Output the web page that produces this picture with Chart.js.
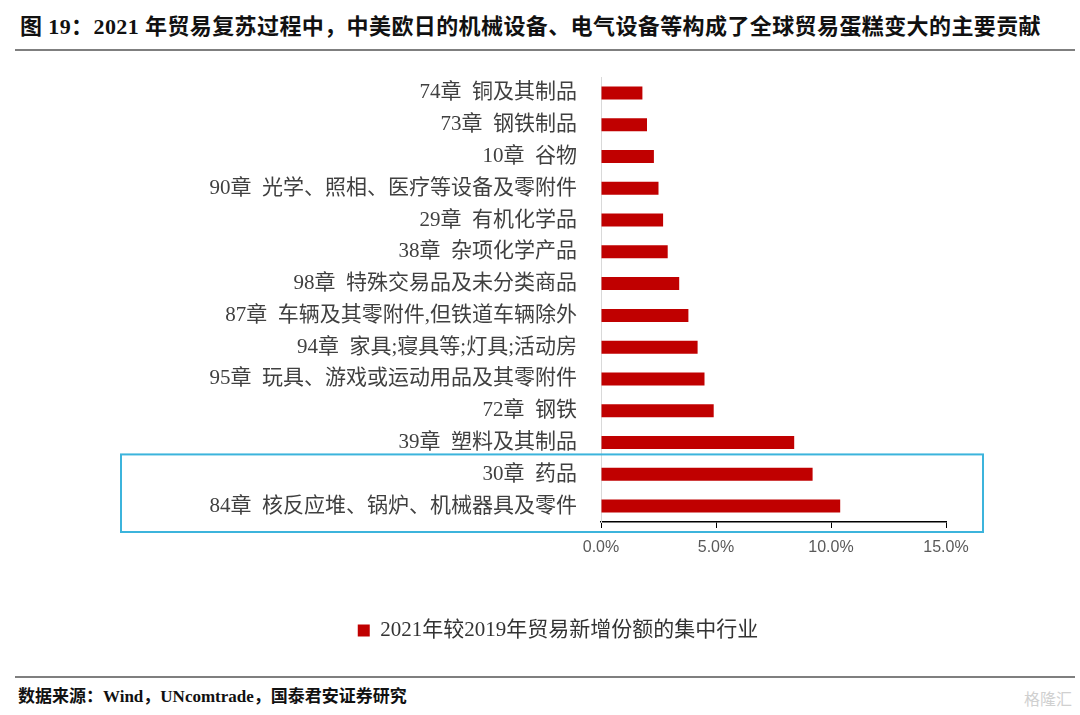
<!DOCTYPE html>
<html>
<head>
<meta charset="utf-8">
<script src="https://cdn.jsdelivr.net/npm/chart.js@4.4.0/dist/chart.umd.min.js"></script>
<style>
    body {
        margin: 0;
        width: 1080px;
        height: 715px;
        background: #fff;
        position: relative;
        overflow: hidden;
        font-family: "Liberation Serif", "Noto Sans CJK SC", serif;
    }
    #title {
        position: absolute;
        left: 20px;
        top: 8px;
        font-size: 22px;
        font-weight: bold;
        color: #111;
        letter-spacing: 0.4px;
        white-space: nowrap;
    }
    .rule {
        position: absolute;
        left: 15px;
        width: 1060px;
        height: 2px;
        background: #7f7f7f;
    }
    #chartBox {
        position: absolute;
        left: 0;
        top: 60px;
        width: 1080px;
        height: 610px;
    }
    #source {
        position: absolute;
        left: 18px;
        top: 682px;
        font-size: 17px;
        font-weight: bold;
        color: #111;
        white-space: nowrap;
    }
    #mark {
        position: absolute;
        right: 8px;
        top: 686px;
        font-family: "Noto Sans CJK SC", sans-serif;
        font-size: 16px;
        color: #d0d0d0;
    }
</style>
</head>
<body>

<div id="title">图 19：2021 年贸易复苏过程中，中美欧日的机械设备、电气设备等构成了全球贸易蛋糕变大的主要贡献</div>
<div class="rule" style="top:49px"></div>

<div id="chartBox"><canvas id="tradeChart"></canvas></div>

<div class="rule" style="top:676px"></div>
<div id="source">数据来源：Wind，UNcomtrade，国泰君安证券研究</div>
<div id="mark">格隆汇</div>

<script>
// ==============================
// Data
// ==============================

const categories = [
    "74章  铜及其制品",
    "73章  钢铁制品",
    "10章  谷物",
    "90章  光学、照相、医疗等设备及零附件",
    "29章  有机化学品",
    "38章  杂项化学产品",
    "98章  特殊交易品及未分类商品",
    "87章  车辆及其零附件,但铁道车辆除外",
    "94章  家具;寝具等;灯具;活动房",
    "95章  玩具、游戏或运动用品及其零附件",
    "72章  钢铁",
    "39章  塑料及其制品",
    "30章  药品",
    "84章  核反应堆、锅炉、机械器具及零件"
];

// share of new trade, %
const shareValues = [1.8, 2.0, 2.3, 2.5, 2.7, 2.9, 3.4, 3.8, 4.2, 4.5, 4.9, 8.4, 9.2, 10.4];

const tickValues = [0, 5, 10, 15];

const seriesName = "2021年较2019年贸易新增份额的集中行业";

// rows inside the blue box
const highlightRows = ["30章  药品", "84章  核反应堆、锅炉、机械器具及零件"];

const serif = '"Liberation Serif", "Noto Sans CJK SC", serif';

// ==============================
// Blue highlight box
// ==============================

const highlightBox = {
    id: "highlightBox",
    afterDraw(chart) {
        const ctx = chart.ctx;
        const y = chart.scales.y;
        const area = chart.chartArea;
        const first = categories.indexOf(highlightRows[0]);

        const top = y.getPixelForValue(first - 0.5) - 4;
        const bottom = area.bottom + 10;

        ctx.save();
        ctx.strokeStyle = "#3cb4dc";
        ctx.lineWidth = 2;
        ctx.strokeRect(121, top, area.right + 37 - 121, bottom - top);
        ctx.restore();
    }
};

// ==============================
// Chart
// ==============================

new Chart(document.getElementById("tradeChart"), {
    type: "bar",
    data: {
        labels: categories,
        datasets: [{
            label: seriesName,
            data: shareValues,
            backgroundColor: "#c00000",
            categoryPercentage: 1,
            barPercentage: 0.41
        }]
    },
    options: {
        indexAxis: "y",
        responsive: true,
        maintainAspectRatio: false,
        animation: false,
        layout: {
            padding: { top: 17, right: 134, bottom: 19, left: 170 }
        },
        plugins: {
            legend: {
                position: "bottom",
                labels: {
                    boxWidth: 12,
                    boxHeight: 12,
                    color: "#333",
                    font: { family: serif, size: 21 }
                }
            },
            tooltip: { enabled: false }
        },
        scales: {
            x: {
                min: 0,
                max: 15,
                afterBuildTicks(scale) {
                    scale.ticks = tickValues.map(v => ({ value: v }));
                },
                afterFit(scale) {
                    scale.height = 88;
                    scale.paddingLeft = 0;
                    scale.paddingRight = 0;
                },
                ticks: {
                    color: "#595959",
                    padding: 10,
                    font: { family: '"Liberation Sans", sans-serif', size: 16 },
                    callback: v => v.toFixed(1) + "%"
                },
                grid: {
                    drawOnChartArea: false,
                    drawTicks: true,
                    tickLength: 6,
                    color: "#000"
                },
                border: { color: "#000", width: 1.5 }
            },
            y: {
                afterFit(scale) {
                    scale.width = 431;
                    scale.paddingTop = 0;
                    scale.paddingBottom = 0;
                },
                ticks: {
                    color: "#404040",
                    padding: 16,
                    font: { family: serif, size: 21 }
                },
                grid: { display: false },
                border: { display: true, color: "#d9d9d9", width: 1 }
            }
        }
    },
    plugins: [highlightBox]
});
</script>
</body>
</html>
